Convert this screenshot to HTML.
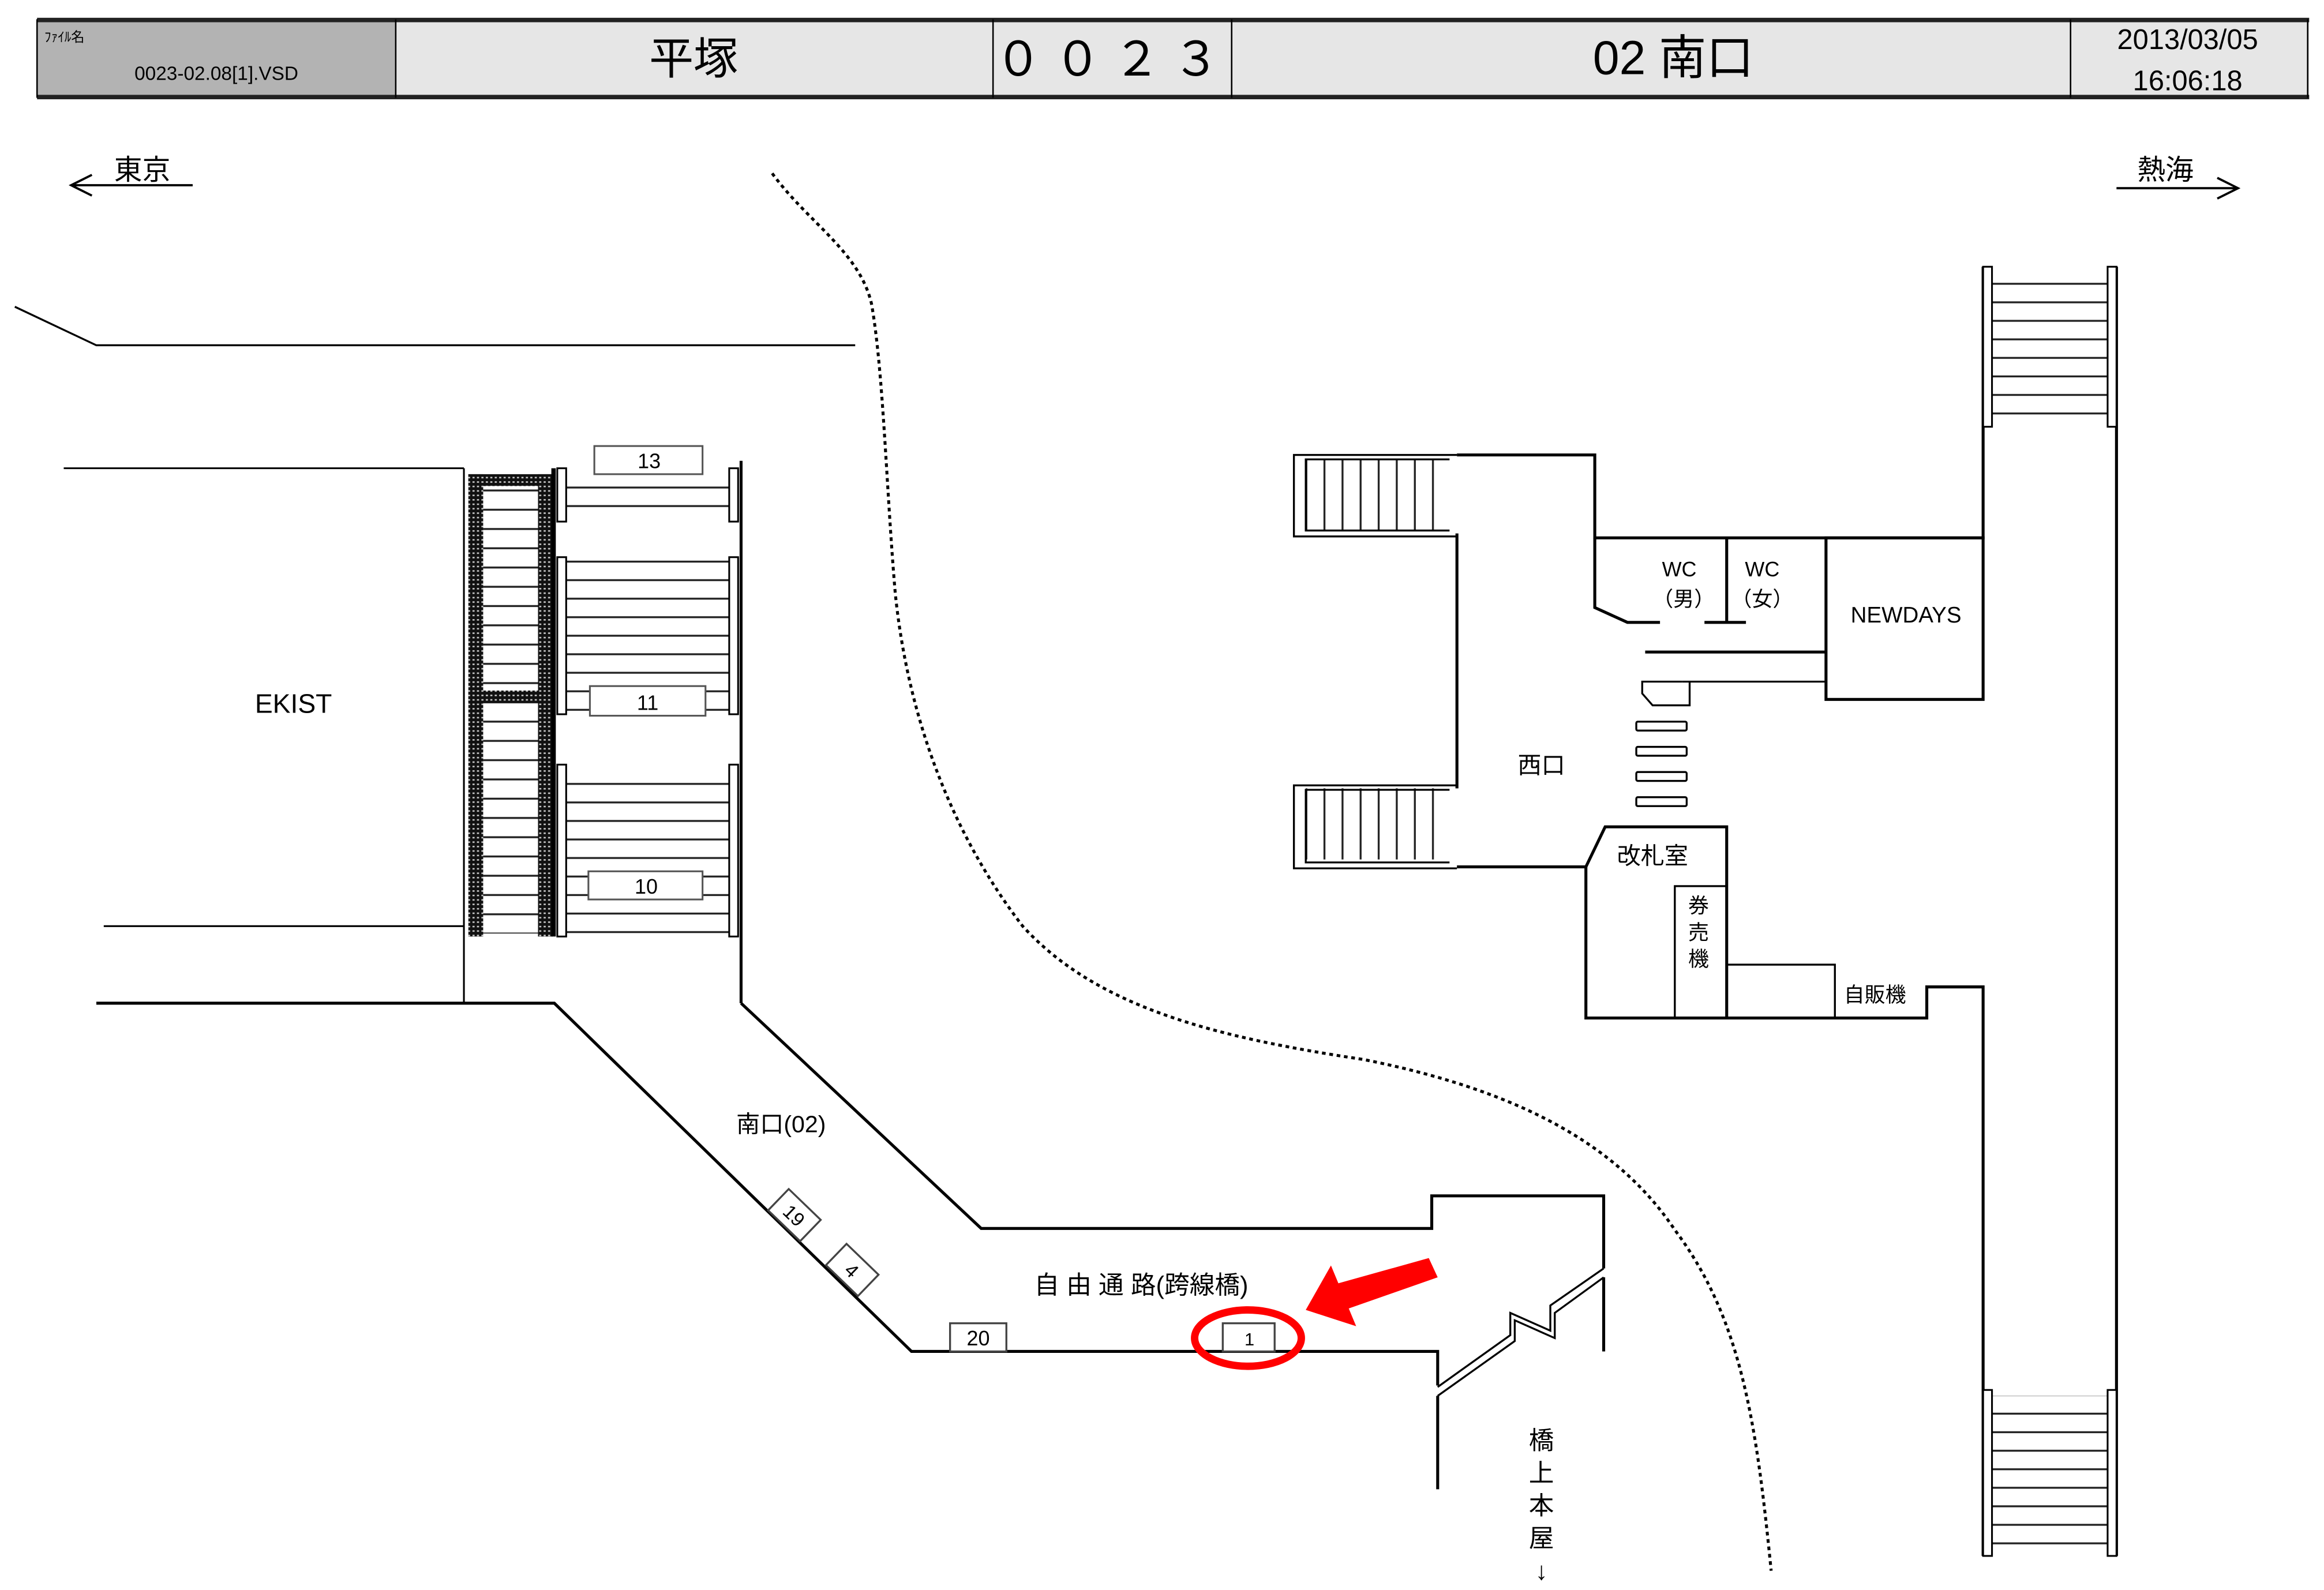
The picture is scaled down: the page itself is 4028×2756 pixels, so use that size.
<!DOCTYPE html>
<html><head><meta charset="utf-8"><style>
html,body{margin:0;padding:0;background:#fff;width:4028px;height:2756px;overflow:hidden}
svg{display:block}
text{font-family:"Liberation Sans","Noto Sans CJK JP",sans-serif;fill:#000}
</style></head><body>
<svg width="4028" height="2756" viewBox="0 0 1568 1073" preserveAspectRatio="none" xmlns="http://www.w3.org/2000/svg">
<defs>
<pattern id="hs" x="0" y="0" width="10" height="13" patternUnits="userSpaceOnUse"><line x1="0" y1="6" x2="10" y2="6" stroke="#222" stroke-width="1.3"/></pattern>
<pattern id="hs2" x="0" y="0" width="10" height="12.5" patternUnits="userSpaceOnUse"><line x1="0" y1="4" x2="10" y2="4" stroke="#222" stroke-width="1.3"/></pattern>
<pattern id="vs" x="0" y="0" width="12.2" height="10" patternUnits="userSpaceOnUse"><line x1="3" y1="0" x2="3" y2="10" stroke="#222" stroke-width="1.3"/></pattern>
<pattern id="dots" x="0" y="0" width="3" height="3" patternUnits="userSpaceOnUse"><rect width="3" height="3" fill="#111"/><rect x="0.8" y="0.8" width="1.4" height="1" fill="#ccc"/></pattern>
</defs>

<!-- header -->
<rect x="25" y="14" width="242" height="51" fill="#b3b3b3"/>
<rect x="267" y="14" width="1291" height="51" fill="#e6e6e6"/>
<rect x="25" y="12" width="1533" height="3" fill="#222"/>
<rect x="25" y="64" width="1533" height="3" fill="#222"/>
<g stroke="#000" stroke-width="1">
<line x1="25" y1="13" x2="25" y2="66"/><line x1="267" y1="13" x2="267" y2="66"/><line x1="670" y1="13" x2="670" y2="66"/><line x1="831" y1="13" x2="831" y2="66"/><line x1="1397" y1="13" x2="1397" y2="66"/><line x1="1557" y1="13" x2="1557" y2="66"/>
</g>
<text x="30" y="28" font-size="9">ﾌｧｲﾙ名</text>
<text x="146" y="54" font-size="13" text-anchor="middle">0023-02.08[1].VSD</text>
<text x="468" y="50" font-size="30" text-anchor="middle">平塚</text>
<text x="751" y="51" font-size="32" text-anchor="middle" letter-spacing="8">００２３</text>
<text x="1129" y="50" font-size="32" text-anchor="middle">02 南口</text>
<text x="1476" y="33" font-size="19" text-anchor="middle">2013/03/05</text>
<text x="1476" y="61" font-size="19" text-anchor="middle">16:06:18</text>

<!-- direction arrows -->
<g stroke="#000" stroke-width="1.5" fill="none">
<line x1="48" y1="125" x2="130" y2="125"/><polyline points="62,118 48,125 62,132"/>
<line x1="1428" y1="127" x2="1510" y2="127"/><polyline points="1496,120 1510,127 1496,134"/>
</g>
<text x="96" y="121" font-size="19" text-anchor="middle">東京</text>
<text x="1461" y="121" font-size="19" text-anchor="middle">熱海</text>

<!-- top line -->
<polyline points="10,207 65,233 577,233" fill="none" stroke="#000" stroke-width="1.3"/>

<!-- dotted curve -->
<path d="M521,117 C545,150 580,170 588,205 C596,250 598,330 604,400 C612,480 640,560 690,625 C740,680 820,700 920,715 C1020,735 1090,770 1130,830 C1175,890 1185,960 1195,1060" fill="none" stroke="#000" stroke-width="2" stroke-dasharray="2.5,2.5"/>

<!-- EKIST -->
<g stroke="#000" stroke-width="1.2" fill="none">
<line x1="43" y1="316" x2="313" y2="316"/><line x1="70" y1="625" x2="313" y2="625"/><line x1="313" y1="316" x2="313" y2="677"/>
</g>
<text x="198" y="481" font-size="18" text-anchor="middle">EKIST</text>

<!-- escalator -->
<rect x="326" y="328" width="37" height="302" fill="url(#hs)"/>
<rect x="316" y="320" width="10" height="312" fill="url(#dots)"/>
<rect x="363" y="320" width="10" height="312" fill="url(#dots)"/>
<rect x="316" y="320" width="57" height="8" fill="url(#dots)"/>
<rect x="316" y="466" width="57" height="8" fill="url(#dots)"/>
<rect x="372" y="316" width="3" height="316" fill="#000"/>

<!-- platform stairs -->
<rect x="382" y="318" width="110" height="32" fill="url(#hs2)"/>
<rect x="382" y="378" width="110" height="102" fill="url(#hs2)"/>
<rect x="382" y="518" width="110" height="112" fill="url(#hs2)"/>
<g stroke="#000" stroke-width="1.2" fill="#fff">
<rect x="376" y="316" width="6" height="36"/><rect x="492" y="316" width="6" height="36"/>
<rect x="376" y="376" width="6" height="106"/><rect x="492" y="376" width="6" height="106"/>
<rect x="376" y="516" width="6" height="116"/><rect x="492" y="516" width="6" height="116"/>
<rect x="401" y="301" width="73" height="19" stroke="#555"/>
<rect x="398" y="463" width="78" height="20" stroke="#555"/>
<rect x="397" y="588" width="77" height="19" stroke="#555"/>
</g>
<text x="438" y="316" font-size="14" text-anchor="middle">13</text>
<text x="437" y="479" font-size="14" text-anchor="middle">11</text>
<text x="436" y="603" font-size="14" text-anchor="middle">10</text>
<line x1="500" y1="311" x2="500" y2="677" stroke="#000" stroke-width="2"/>

<!-- corridor -->
<g stroke="#000" stroke-width="2" fill="none">
<polyline points="65,677 374,677 615,912 970,912 970,935"/>
<line x1="970" y1="942" x2="970" y2="1005"/>
<polyline points="500,677 662,829 966,829 966,807 1082,807 1082,856"/>
<line x1="1082" y1="862" x2="1082" y2="912"/>
<polyline points="970,936 1019,901 1019,886 1046,898 1046,881 1082,856" stroke-width="1.3"/>
<polyline points="970,942 1022,905 1022,891 1049,903 1049,886 1082,862" stroke-width="1.3"/>
</g>
<text x="527" y="764" font-size="16" text-anchor="middle">南口(02)</text>
<g transform="translate(536,820) rotate(44)"><rect x="-15" y="-10" width="30" height="20" fill="#fff" stroke="#444" stroke-width="1.3"/><text x="0" y="5" font-size="13" text-anchor="middle">19</text></g>
<g transform="translate(575,857) rotate(44)"><rect x="-15" y="-10" width="30" height="20" fill="#fff" stroke="#444" stroke-width="1.3"/><text x="0" y="5" font-size="13" text-anchor="middle">4</text></g>
<rect x="641" y="893" width="38" height="19" fill="#fff" stroke="#444" stroke-width="1.3"/>
<text x="660" y="908" font-size="14" text-anchor="middle">20</text>
<rect x="825" y="893" width="35" height="19" fill="#fff" stroke="#444" stroke-width="1.3"/>
<text x="843" y="908" font-size="12" text-anchor="middle">1</text>
<text x="770" y="873" font-size="17" text-anchor="middle">自 由 通 路(跨線橋)</text>
<g font-size="17" text-anchor="middle"><text x="1040" y="978">橋</text><text x="1040" y="1000">上</text><text x="1040" y="1022">本</text><text x="1040" y="1044">屋</text><text x="1040" y="1066">↓</text></g>

<!-- red marker -->
<ellipse cx="842" cy="903" rx="36" ry="19" fill="none" stroke="#f00" stroke-width="5"/>
<polygon points="881,884 898,854 903,866 964,849 970,862 910,883 915,895" fill="#f00"/>

<!-- west exit stairs -->
<rect x="881" y="310" width="97" height="48" fill="url(#vs)"/>
<rect x="881" y="532" width="97" height="48" fill="url(#vs)"/>
<g stroke="#000" stroke-width="1.3" fill="none">
<polyline points="983,307 873,307 873,362 983,362"/><polyline points="978,310 881,310 881,358 978,358"/>
<polyline points="983,530 873,530 873,586 983,586"/><polyline points="978,533 881,533 881,582 978,582"/>
</g>

<!-- west station building -->
<g stroke="#000" stroke-width="2" fill="none">
<line x1="983" y1="360" x2="983" y2="532"/>
<polyline points="983,307 1076,307 1076,363 1338,363 1338,180"/>
<polyline points="1076,363 1076,410 1098,420 1120,420"/>
<line x1="1165" y1="363" x2="1165" y2="420"/><line x1="1150" y1="420" x2="1178" y2="420"/>
<line x1="1110" y1="440" x2="1232" y2="440"/>
<rect x="1232" y="363" width="106" height="109"/>
<polyline points="983,585 1070,585 1083,558 1165,558 1165,687"/>
<polyline points="1070,585 1070,687 1300,687 1300,666 1338,666 1338,1050"/>
<line x1="1428" y1="180" x2="1428" y2="1050"/>
</g>
<g stroke="#000" stroke-width="1.3" fill="none">
<polyline points="1135,460 1232,460"/>
<polyline points="1135,460 1108,460 1108,468 1115,476 1140,476 1140,460"/>
<rect x="1104" y="487" width="34" height="6" rx="1"/><rect x="1104" y="504" width="34" height="6" rx="1"/>
<rect x="1104" y="521" width="34" height="6" rx="1"/><rect x="1104" y="538" width="34" height="6" rx="1"/>
<rect x="1130" y="598" width="35" height="89"/>
<polyline points="1165,651 1238,651 1238,687"/>
</g>
<g font-size="14" text-anchor="middle">
<text x="1133" y="389">WC</text><text x="1136" y="409">（男）</text>
<text x="1189" y="389">WC</text><text x="1189" y="409">（女）</text>
<text x="1286" y="420" font-size="15">NEWDAYS</text>
<text x="1040" y="522" font-size="16">西口</text>
<text x="1115" y="583" font-size="16">改札室</text>
<text x="1146" y="616">券</text><text x="1146" y="634">売</text><text x="1146" y="652">機</text>
<text x="1265" y="676">自販機</text>
</g>

<!-- right stairs -->
<rect x="1344" y="186" width="78" height="100" fill="url(#hs2)"/>
<rect x="1344" y="942" width="78" height="104" fill="url(#hs2)"/>
<g stroke="#000" stroke-width="1.2" fill="#fff">
<rect x="1338" y="180" width="6" height="108"/><rect x="1422" y="180" width="6" height="108"/>
<rect x="1338" y="938" width="6" height="112"/><rect x="1422" y="938" width="6" height="112"/>
</g>
</svg>
</body></html>
